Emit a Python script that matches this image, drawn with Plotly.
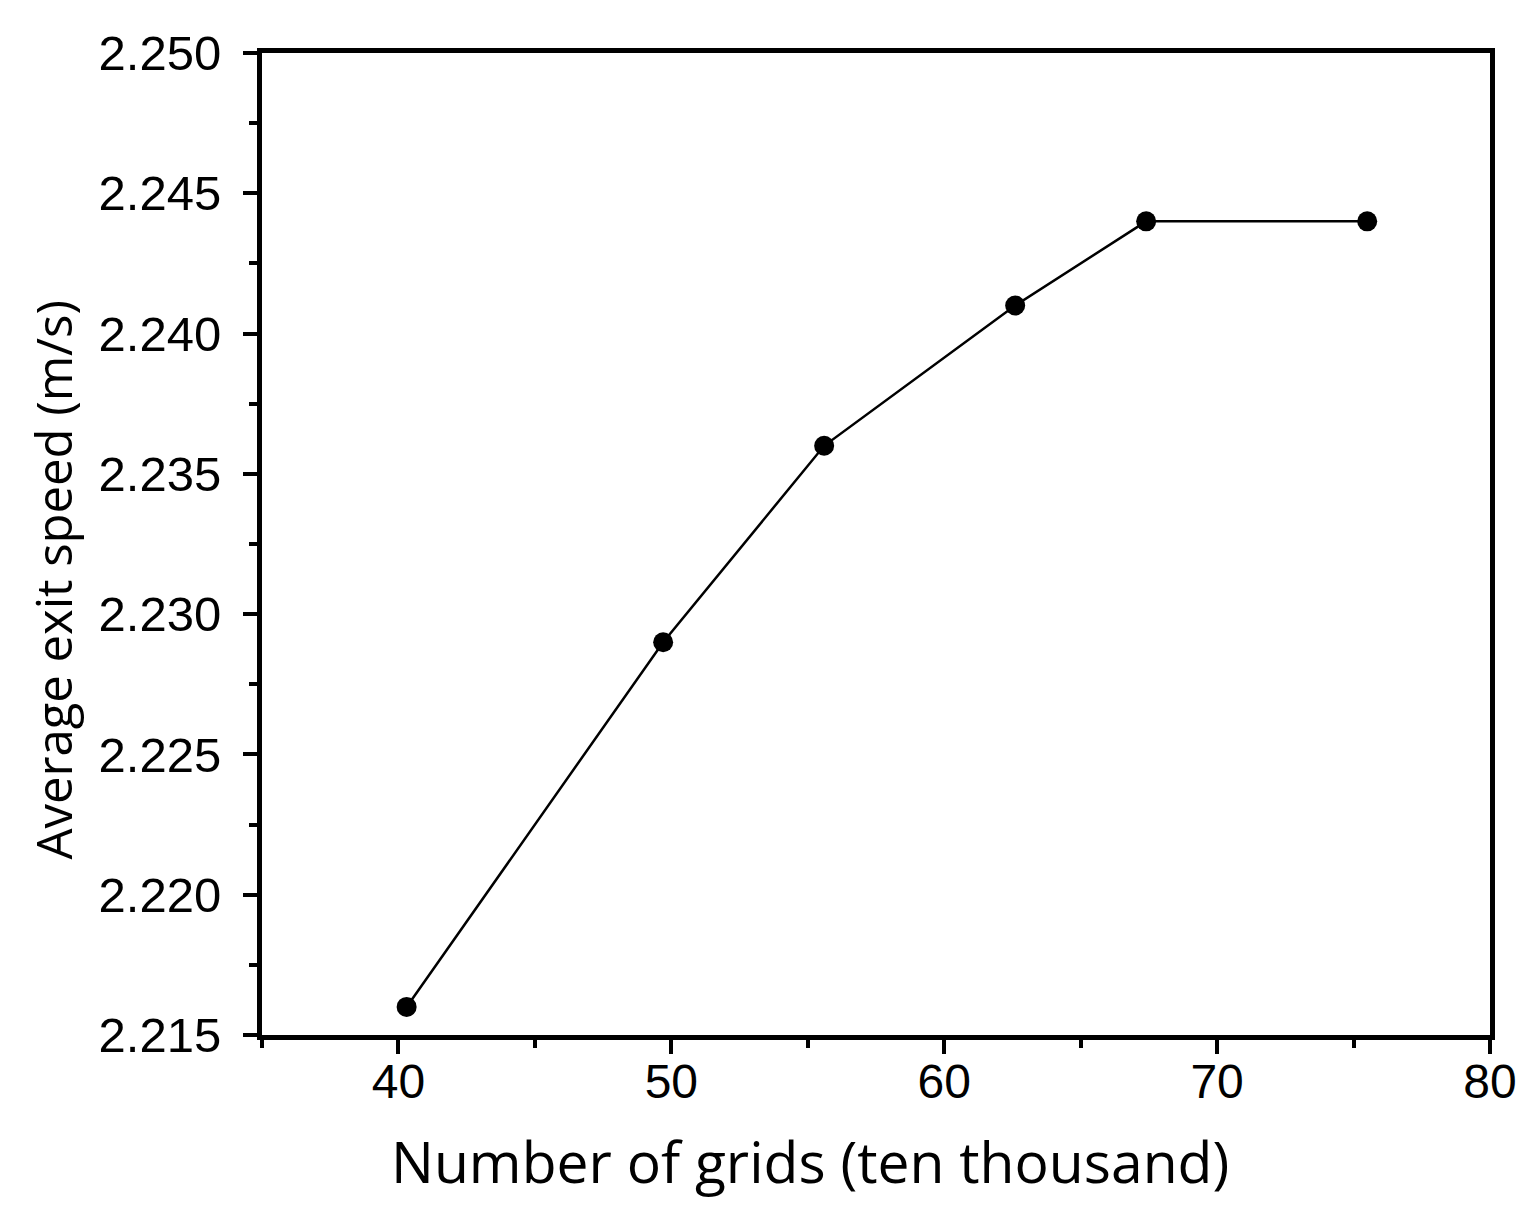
""" Grid independence check: average exit speed vs number of grids """
import plotly.graph_objects as go

# Data
grids = [40.3, 49.7, 55.6, 62.6, 67.4, 75.5]
exit_speed = [2.216, 2.229, 2.236, 2.241, 2.244, 2.244]

# Axis labels
x_label = "Number of grids (ten thousand)"
y_label = "Average exit speed (m/s)"

# Creates the line + marker trace
fig = go.Figure()
fig.add_trace(go.Scatter(x=grids, y=exit_speed, mode='lines+markers',
        line=dict(color='black', width=2.5),
        marker=dict(color='black', size=20, symbol='circle')))

# Axis styling: thick box, outside ticks with minor ticks
axis_style = dict(showline=True, linecolor='black', linewidth=5, mirror=True,
        showgrid=False, zeroline=False, ticks='outside', ticklen=14,
        tickwidth=4, tickcolor='black')

fig.update_xaxes(range=[35, 80], dtick=10, tick0=0, ticklabelstandoff=-14,
        minor=dict(dtick=5, tick0=0, ticks='outside', ticklen=8,
                   tickwidth=4, tickcolor='black'),
        tickfont=dict(family='Liberation Sans', size=48, color='black'),
        **axis_style)
fig.update_yaxes(range=[2.215, 2.250], dtick=0.005, tick0=2.215,
        tickformat='.3f', ticklabelstandoff=12,
        minor=dict(dtick=0.0025, tick0=2.215, ticks='outside', ticklen=8,
                   tickwidth=4, tickcolor='black'),
        tickfont=dict(family='Liberation Sans', size=49, color='black'),
        **axis_style)

# Axis titles as annotations so they sit where the original has them
fig.add_annotation(text=x_label, xref='paper', yref='paper', x=0.446, y=-0.128,
        showarrow=False, xanchor='center', yanchor='middle',
        font=dict(family='Open Sans', size=57, color='black'))
fig.add_annotation(text=y_label, xref='paper', yref='paper', x=-0.17, y=0.463,
        showarrow=False, xanchor='center', yanchor='middle', textangle=-90,
        font=dict(family='Open Sans', size=49, color='black'))

# Page layout (the page adds an 8px body margin, so offsets are trimmed)
fig.update_layout(width=1540, height=1218, showlegend=False,
        plot_bgcolor='white', paper_bgcolor='white',
        margin=dict(l=254, r=58, t=45, b=191))

fig.write_html("out.html")
